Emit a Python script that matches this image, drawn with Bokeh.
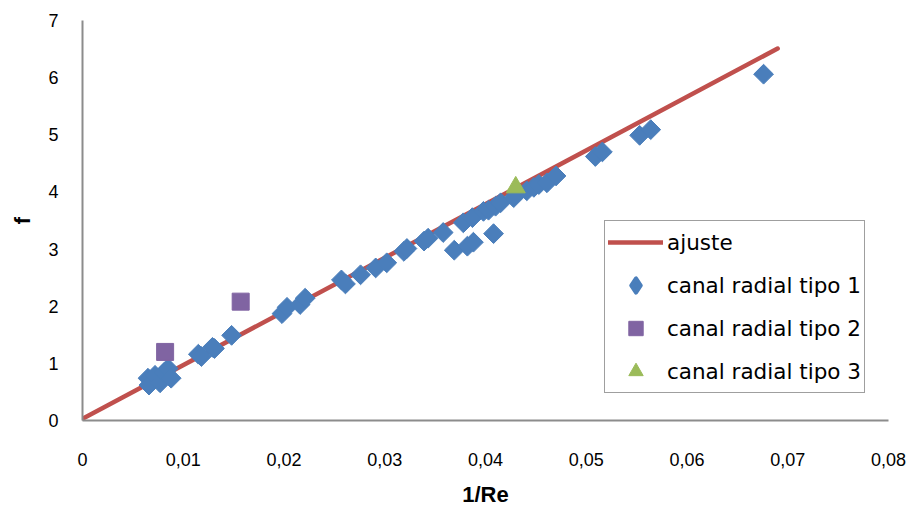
import math
from bokeh.plotting import figure
from bokeh.models import (Range1d, FixedTicker, CustomJSTickFormatter, Legend, LegendItem)
from bokeh.embed import file_html
from bokeh.resources import INLINE

# ---- data ----
fit_x = [0.0, 0.069]
fit_f = [0.03, 6.51]

tipo1_x = [0.0065, 0.0066, 0.0072, 0.0077, 0.0081, 0.0085, 0.0088,
           0.0115, 0.0118, 0.0129, 0.0131, 0.0148,
           0.0198, 0.0203, 0.0216, 0.0221,
           0.0257, 0.0261, 0.0276, 0.0291, 0.0302, 0.0319, 0.0322,
           0.0339, 0.0343, 0.0358, 0.0369, 0.0382, 0.0388, 0.0408,
           0.0378, 0.0387, 0.0398, 0.0403, 0.0410, 0.0415, 0.0428,
           0.0441, 0.0448, 0.0453, 0.0461, 0.0470,
           0.0509, 0.0516, 0.0553, 0.0564, 0.0676]
tipo1_f = [0.74, 0.62, 0.79, 0.66, 0.84, 0.91, 0.74,
           1.16, 1.12, 1.28, 1.26, 1.49,
           1.87, 1.98, 2.03, 2.14,
           2.46, 2.39, 2.55, 2.67, 2.76, 2.96, 3.01,
           3.14, 3.19, 3.29, 2.98, 3.05, 3.12, 3.27,
           3.46, 3.55, 3.66, 3.68, 3.75, 3.81, 3.90,
           4.02, 4.08, 4.13, 4.16, 4.28,
           4.62, 4.70, 4.99, 5.09, 6.06]

tipo2_x = [0.0082, 0.0157]
tipo2_f = [1.20, 2.08]

tipo3_x = [0.0430]
tipo3_f = [4.08]

x_ticks = [0.0, 0.01, 0.02, 0.03, 0.04, 0.05, 0.06, 0.07, 0.08]
y_ticks = [0, 1, 2, 3, 4, 5, 6, 7]

labels = ["ajuste", "canal radial tipo 1", "canal radial tipo 2", "canal radial tipo 3"]

BLUE = "#4A7EBB"
PURPLE = "#8064A2"
GREEN = "#9BBB59"
RED = "#C0504D"

# ---- figure ----
p = figure(width=911, height=520, output_backend="svg", toolbar_location=None,
           x_range=Range1d(0, 0.08), y_range=Range1d(0, 7),
           min_border_left=82, min_border_right=23, min_border_top=20, min_border_bottom=100)
p.outline_line_color = None
p.grid.visible = False
p.background_fill_color = "white"
p.border_fill_color = "white"

axis_color = "#8c8c8c"
for ax in (p.xaxis[0], p.yaxis[0]):
    ax.axis_line_color = axis_color
    ax.axis_line_width = 2
    ax.major_tick_line_color = None
    ax.minor_tick_line_color = None
    ax.major_tick_in = 0
    ax.major_tick_out = 0
    ax.minor_tick_in = 0
    ax.minor_tick_out = 0
    ax.major_label_text_font = "Liberation Sans"
    ax.major_label_text_font_size = "18px"
    ax.major_label_text_color = "#000000"
    ax.axis_label_text_font = "Liberation Sans"
    ax.axis_label_text_font_style = "bold"
    ax.axis_label_text_font_size = "22px"
    ax.axis_label_text_color = "#000000"

p.xaxis[0].ticker = FixedTicker(ticks=x_ticks)
p.xaxis[0].formatter = CustomJSTickFormatter(
    code="if (Math.abs(tick) < 1e-12) return '0'; return tick.toFixed(2).replace('.', ',');")
p.xaxis[0].major_label_standoff = 32
p.xaxis[0].axis_label = "1/Re"
p.xaxis[0].axis_label_standoff = 13

p.yaxis[0].ticker = FixedTicker(ticks=y_ticks)
p.yaxis[0].major_label_standoff = 24
p.yaxis[0].axis_label = "f"
p.yaxis[0].axis_label_standoff = 10

r_fit = p.line(fit_x, fit_f, line_color=RED, line_width=4.5, line_cap="round")
# legend swatch renderer for tipo 1 (drawn first, hidden under the first tipo-1 marker)
r1_leg = p.scatter(tipo1_x[:1], tipo1_f[:1], marker="diamond", size=12,
                   fill_color=BLUE, line_color=BLUE, line_width=4, line_join="round")
r1 = p.scatter(tipo1_x, tipo1_f, marker="square", size=14, angle=math.pi / 4,
               fill_color=BLUE, line_color=BLUE, line_width=1)
r2 = p.scatter(tipo2_x, tipo2_f, marker="square", size=17,
               fill_color=PURPLE, line_color=PURPLE, line_width=1)
r3 = p.scatter(tipo3_x, tipo3_f, marker="triangle", size=19,
               fill_color=GREEN, line_color=GREEN, line_width=1)

legend = Legend(items=[LegendItem(label=labels[0], renderers=[r_fit]),
                       LegendItem(label=labels[1], renderers=[r1_leg]),
                       LegendItem(label=labels[2], renderers=[r2]),
                       LegendItem(label=labels[3], renderers=[r3])],
                location=(522, 27))
legend.label_text_font = "DejaVu Sans"
legend.label_text_font_size = "21.5px"
legend.label_text_color = "#000000"
legend.glyph_width = 55
legend.glyph_height = 36
legend.label_height = 36
legend.label_standoff = 4
legend.spacing = 7
legend.padding = 3
legend.margin = 0
legend.border_line_color = "#404040"
legend.border_line_width = 1.5
legend.background_fill_color = "white"
legend.background_fill_alpha = 1
p.add_layout(legend, "center")

open("out.html", "w").write(file_html(p, INLINE))
